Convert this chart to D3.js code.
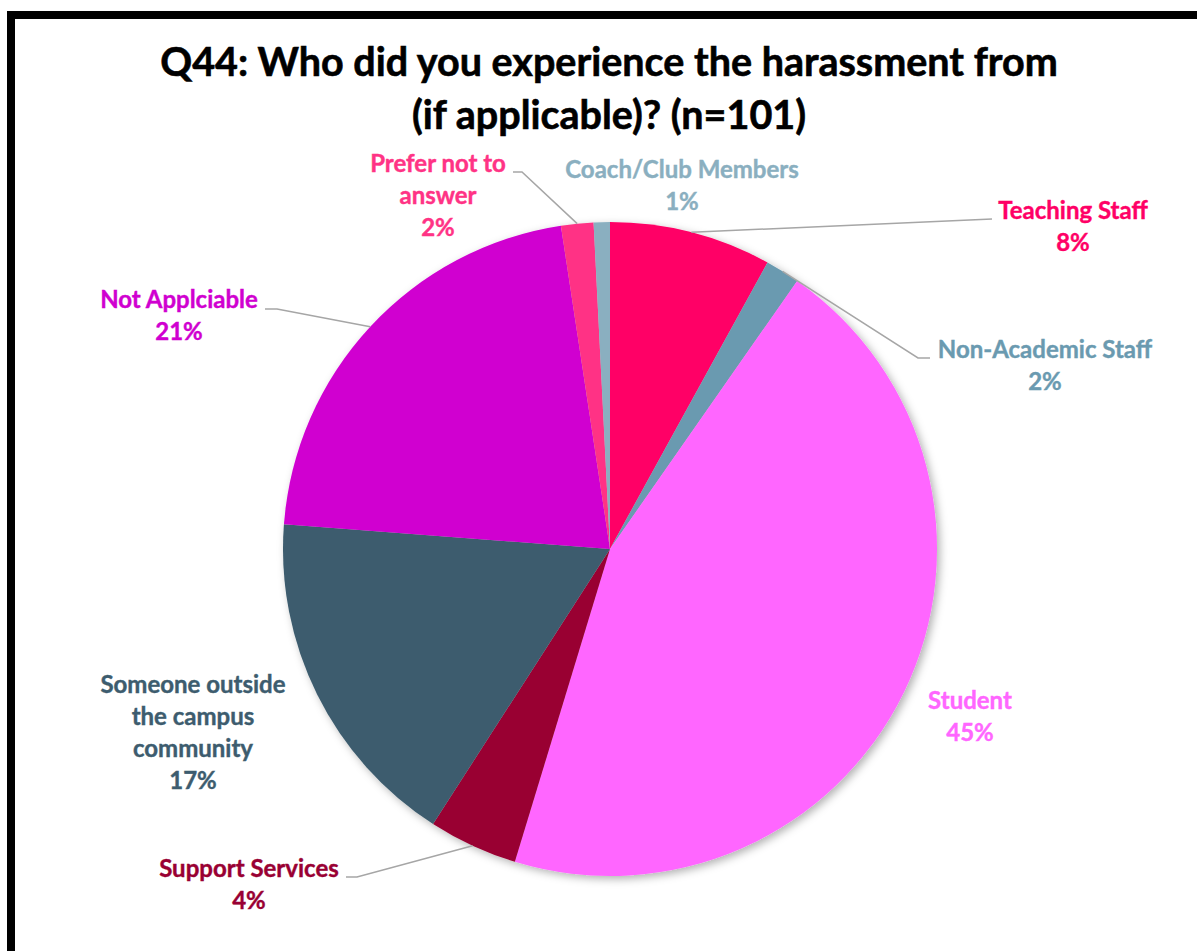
<!DOCTYPE html>
<html>
<head>
<meta charset="utf-8">
<script src="https://cdn.jsdelivr.net/npm/d3@7"></script>
<style>
  body { margin: 0; background: #fff; }
  svg { display: block; font-family: Lato, "Open Sans", sans-serif; font-weight: bold; }
</style>
</head>
<body>
<svg width="1197" height="951"></svg>
<script>
// data, clockwise from 12 o'clock
var categories = ["Teaching Staff", "Non-Academic Staff", "Student", "Support Services",
    "Someone outside the campus community", "Not Applciable", "Prefer not to answer", "Coach/Club Members"];
var shares = [8.0, 1.7, 45.0, 4.4, 17.1, 21.4, 1.6, 0.8];
var percentLabels = ["8%", "2%", "45%", "4%", "17%", "21%", "2%", "1%"];
var colors = ["#FF0066", "#6A9AB0", "#FF66FF", "#990033", "#3D5C6E", "#D000D0", "#FF3385", "#8AAFC0"];
var titleLines = ["Q44: Who did you experience the harassment from", "(if applicable)? (n=101)"];

// label layout: text lines, centre x, first baseline y, leader elbow (null = no leader)
var labelLayout = {
    "Teaching Staff": { lines: ["Teaching Staff"], x: 1073, y: 219, elbow: [992, 219] },
    "Non-Academic Staff": { lines: ["Non-Academic Staff"], x: 1045, y: 358, elbow: [930, 358], bend: [918, 358] },
    "Student": { lines: ["Student"], x: 970, y: 709, elbow: null },
    "Support Services": { lines: ["Support Services"], x: 249, y: 877, elbow: [346, 877], bend: [357, 877] },
    "Someone outside the campus community": { lines: ["Someone outside", "the campus", "community"], x: 193, y: 693, elbow: null },
    "Not Applciable": { lines: ["Not Applciable"], x: 179, y: 308, elbow: [265, 309], bend: [277, 309] },
    "Prefer not to answer": { lines: ["Prefer not to", "answer"], x: 438, y: 172, elbow: [513, 172], bend: [522, 172] },
    "Coach/Club Members": { lines: ["Coach/Club Members"], x: 682, y: 178, elbow: null }
};

var svg = d3.select("svg"),
    width = +svg.attr("width"),
    height = +svg.attr("height");

var cx = 610, cy = 549, radius = 327, lineH = 32;

// frame
svg.append("rect")
    .attr("x", 11).attr("y", 15)
    .attr("width", width + 20).attr("height", height + 20)
    .attr("fill", "none")
    .attr("stroke", "#000")
    .attr("stroke-width", 8);

// title
svg.append("text")
    .attr("x", 609)
    .attr("y", 76)
    .attr("text-anchor", "middle")
    .attr("font-size", 39.5)
    .attr("fill", "#000")
    .attr("stroke", "#000")
    .attr("stroke-width", 0.6)
    .selectAll("tspan")
    .data(titleLines)
    .enter().append("tspan")
    .attr("x", 609)
    .attr("dy", function(d, i) { return i ? 53 : 0; })
    .text(function(d) { return d; });

var defs = svg.append("defs");
var shadow = defs.append("filter").attr("id", "shadow")
    .attr("x", "-10%").attr("y", "-10%").attr("width", "120%").attr("height", "120%");
shadow.append("feDropShadow")
    .attr("dx", 3).attr("dy", 3)
    .attr("stdDeviation", 4)
    .attr("flood-color", "#000")
    .attr("flood-opacity", 0.3);

var pie = d3.pie().sort(null).value(function(d) { return d; });
var arcs = pie(shares);

var arc = d3.arc().innerRadius(0).outerRadius(radius);

var g = svg.append("g").attr("transform", "translate(" + cx + "," + cy + ")");

g.append("g")
    .attr("filter", "url(#shadow)")
    .selectAll("path")
    .data(arcs)
    .enter().append("path")
    .attr("d", arc)
    .attr("fill", function(d, i) { return colors[i]; });

// leader lines
function edgePoint(d) {
    var a = (d.startAngle + d.endAngle) / 2;
    return [cx + radius * Math.sin(a), cy - radius * Math.cos(a)];
}

svg.append("g")
    .selectAll("polyline")
    .data(arcs.filter(function(d, i) { return labelLayout[categories[i]].elbow; }))
    .enter().append("polyline")
    .attr("fill", "none")
    .attr("stroke", "#A6A6A6")
    .attr("stroke-width", 1.5)
    .attr("points", function(d) {
        var L = labelLayout[categories[d.index]];
        var pts = [L.elbow];
        if (L.bend) pts.push(L.bend);
        pts.push(edgePoint(d));
        return pts.map(function(p) { return p.join(","); }).join(" ");
    });

// labels
var label = svg.append("g")
    .selectAll("text")
    .data(arcs)
    .enter().append("text")
    .attr("text-anchor", "middle")
    .attr("font-size", 24)
    .attr("fill", function(d, i) { return colors[i]; })
    .attr("stroke", function(d, i) { return colors[i]; })
    .attr("stroke-width", 0.4)
    .attr("x", function(d, i) { return labelLayout[categories[i]].x; })
    .attr("y", function(d, i) { return labelLayout[categories[i]].y; });

label.each(function(d, i) {
    var L = labelLayout[categories[i]];
    var t = d3.select(this);
    L.lines.concat([percentLabels[i]]).forEach(function(s, j) {
        t.append("tspan")
            .attr("x", L.x)
            .attr("dy", j ? lineH : 0)
            .text(s);
    });
});
</script>
</body>
</html>
